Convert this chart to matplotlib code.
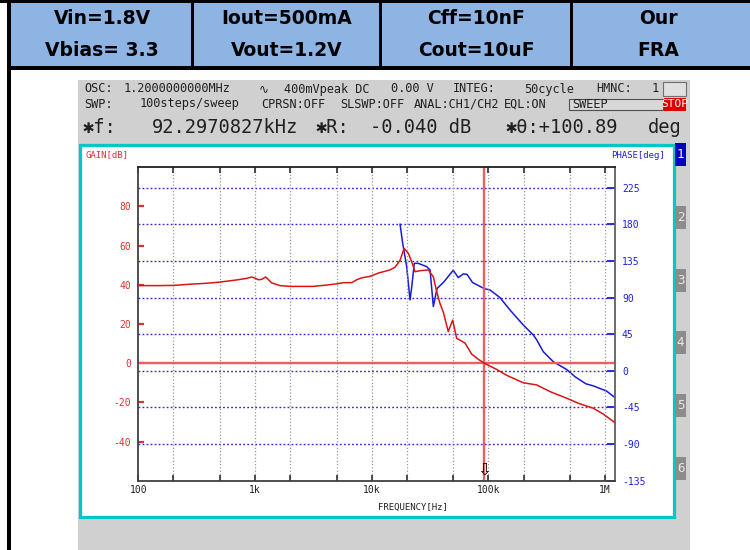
import matplotlib
matplotlib.use("Agg")
import matplotlib.pyplot as plt
from matplotlib.patches import Rectangle
from matplotlib.ticker import FixedLocator, NullFormatter
import matplotlib.transforms as mtransforms

# ---------------- data ----------------
header_top = ["Vin=1.8V", "Iout=500mA", "Cff=10nF", "Our"]
header_bottom = ["Vbias= 3.3", "Vout=1.2V", "Cout=10uF", "FRA"]

gain_freq = [100, 150, 200, 277, 386, 501, 697, 849, 937, 1000, 1067, 1140, 1235,
             1390, 1637, 1995, 3162, 3981, 5012, 5715, 6745, 7430, 8260, 9666,
             11400, 14350, 15850, 17500, 18930, 20600, 22030, 23500, 25950, 30550,
             33750, 36060, 38460, 41110, 45300, 49430, 53460, 58000, 63100, 71940,
             81920, 92297, 117800, 143500, 199000, 259400, 337300, 469000, 609500,
             792500, 966000, 1216000]
gain_db = [39.6, 39.6, 39.7, 40.3, 40.8, 41.4, 42.5, 43.3, 44.0, 43.4, 42.6, 42.8, 44.0,
           41.0, 39.6, 39.2, 39.2, 39.8, 40.5, 41.1, 41.1, 42.6, 43.6, 44.3,
           46.0, 47.6, 49.0, 52.5, 58.6, 56.1, 51.8, 46.7, 47.2, 47.6,
           44.1, 36.5, 30.5, 26.0, 16.1, 22.0, 12.7, 11.5, 10.2, 4.6,
           2.0, -0.04, -3.2, -6.2, -10.0, -11.1, -14.5, -17.9, -20.8,
           -23.0, -26.0, -30.4]

phase_freq = [17500, 18440, 19950, 21300, 22030, 23180, 25070, 29580, 31620, 33750,
              36300, 41700, 49970, 55200, 60950, 65600, 73100, 92297, 103200, 125600,
              153100, 199000, 242700, 259400, 295300, 359700, 469000, 552000, 609500,
              686000, 792500, 1033000, 1216000]
phase_deg = [180, 156.6, 128, 87, 103, 132, 132, 128, 124, 79,
             101, 109.5, 123.5, 114.5, 119, 118.5, 108.5, 100.89, 99.3, 90,
             74.7, 56.3, 44, 38, 23.5, 11.2, 1.5, -7.2, -11.3,
             -16, -18.5, -25, -33]

gain_ticks = [80, 60, 40, 20, 0, -20, -40]
phase_ticks = [225, 180, 135, 90, 45, 0, -45, -90, -135]
phase_grid = [225, 180, 135, 90, 45, 0, -45, -90]
freq_ticks = [100, 1e3, 1e4, 1e5, 1e6]
freq_labels = ["100", "1k", "10k", "100k", "1M"]
freq_minor = [200, 500, 2e3, 5e3, 2e4, 5e4, 2e5, 5e5]
grid_freqs = [200, 500, 1e3, 2e3, 5e3, 1e4, 2e4, 5e4, 1e5, 2e5, 5e5, 1e6]
cursor_freq = 92297.0827

info1 = [("OSC:", 84), ("1.2000000000MHz", 124), ("\u223f", 259), ("400mVpeak DC", 284),
         ("0.00 V", 391), ("INTEG:", 453), ("50cycle", 524), ("HMNC:", 596), ("1", 652)]
info2 = [("SWP:", 84), ("100steps/sweep", 140), ("CPRSN:OFF", 261), ("SLSWP:OFF", 340),
         ("ANAL:CH1/CH2", 414), ("EQL:ON", 504)]
info3 = [("\u2731f:", 83), ("92.2970827kHz", 152), ("\u2731R:", 316), ("-0.040 dB", 370),
         ("\u2731\u03b8:+100.89", 506), ("deg", 648)]

# ---------------- figure ----------------
W, H = 750, 550
fig = plt.figure(figsize=(7.5, 5.5), dpi=100)
fig.patch.set_facecolor("white")

bg = fig.add_axes([0, 0, 1, 1])
bg.set_xlim(0, W)
bg.set_ylim(H, 0)
bg.axis("off")

# header table
bg.add_patch(Rectangle((9, 2), W - 9, 65, fc="#8db4e2", ec="none"))
bg.add_patch(Rectangle((0, 0), W, 3, fc="black", ec="none"))
bg.add_patch(Rectangle((7, 66), W - 7, 4, fc="black", ec="none"))
bg.add_patch(Rectangle((7, 0), 3.5, H, fc="black", ec="none"))
for sx in [191, 379, 570]:
    bg.add_patch(Rectangle((sx, 0), 3, 68, fc="black", ec="none"))
centers = [102, 287, 476, 658]
for cx, t1, t2 in zip(centers, header_top, header_bottom):
    bg.text(cx, 19, t1, ha="center", va="center", fontsize=13.5, fontweight="bold",
            family="DejaVu Sans", color="black")
    bg.text(cx, 50, t2, ha="center", va="center", fontsize=13.5, fontweight="bold",
            family="DejaVu Sans", color="black")

# instrument screen
bg.add_patch(Rectangle((78, 80), 612, H - 80, fc="#d0d0d0", ec="none"))
bg.add_patch(Rectangle((79.5, 144.5), 594.5, 372, fc="white", ec="#00c8c8", lw=2.3))

mono = ["DejaVu Sans Mono", "DejaVu Sans"]
for t, x in info1:
    bg.text(x, 89, t, ha="left", va="center", fontsize=8.6, family=mono, color="#202020")
for t, x in info2:
    bg.text(x, 104, t, ha="left", va="center", fontsize=8.6, family=mono, color="#202020")
for t, x in info3:
    bg.text(x, 127.5, t, ha="left", va="center", fontsize=13.5, family=mono, color="#202020")

# HMNC box, SWEEP box, STOP button
bg.add_patch(Rectangle((663, 82), 23, 14, fc="#e0e0e0", ec="#707070", lw=0.8))
bg.add_patch(Rectangle((569, 98.5), 94, 11, fc="#d8d8d8", ec="#505050", lw=0.8))
bg.text(572, 104, "SWEEP", ha="left", va="center", fontsize=8.6, family=mono, color="#202020")
bg.add_patch(Rectangle((664, 97.5), 22, 13, fc="#e00000", ec="none"))
bg.text(675, 104, "STOP", ha="center", va="center", fontsize=8, family=mono, color="white")

# side tabs
tab_y = [143, 206, 269, 331, 394, 457]
for i, ty in enumerate(tab_y):
    fc = "#0000c0" if i == 0 else "#8c8c8c"
    tc = "white" if i == 0 else "#e8e8e8"
    bg.add_patch(Rectangle((675, ty), 11, 23, fc=fc, ec="none"))
    bg.text(680.5, ty + 11.5, str(i + 1), ha="center", va="center", fontsize=9,
            family=mono, color=tc)

# axis titles
bg.text(86, 155, "GAIN[dB]", ha="left", va="center", fontsize=6.5, family=mono, color="#e03030")
bg.text(665, 155, "PHASE[deg]", ha="right", va="center", fontsize=6.5, family=mono, color="#2020e0")
bg.text(413, 507, "FREQUENCY[Hz]", ha="center", va="center", fontsize=6.5, family=mono, color="#202020")

# ---------------- plot axes ----------------
L, R, T, B = 138.3, 615.0, 167.3, 480.7
ax = fig.add_axes([L / W, (H - B) / H, (R - L) / W, (B - T) / H])
ax2 = ax.twinx()
ax.set_zorder(ax2.get_zorder() + 1)
ax.patch.set_visible(False)

ax.set_xscale("log")
ax.set_xlim(100, 1.216e6)
ax.set_ylim(-60, 100)
ax2.set_ylim(-135, 250)

# grids
for p in phase_grid:
    ax2.axhline(p, color="#2a2ae6", lw=1.0, ls=(0, (1.3, 1.6)), zorder=1)
for f in grid_freqs:
    ax.axvline(f, color="#9a9a9a", lw=0.9, ls=(0, (1.0, 1.6)), zorder=1)

# markers
ax.axhline(0, color="#e86060", lw=1.7, zorder=2)
ax.axvline(cursor_freq, color="#e86060", lw=1.7, zorder=2)

# curves
ax2.plot(phase_freq, phase_deg, color="#1a1ad8", lw=1.1, zorder=3)
ax.plot(gain_freq, gain_db, color="#dd1414", lw=1.1, zorder=3)

# cursor arrow
trans = mtransforms.blended_transform_factory(ax.transData, ax.transAxes)
ax.text(cursor_freq, 0.008, "\u21e9", transform=trans, ha="center", va="bottom",
        fontsize=12, family="DejaVu Sans", color="black", zorder=5)

# spines
for side, col in [("left", "#404040"), ("bottom", "#404040"), ("top", "#202020"), ("right", "#606060")]:
    ax.spines[side].set_color(col)
    ax.spines[side].set_linewidth(1.3)
for s in ax2.spines.values():
    s.set_visible(False)

# x ticks
ax.xaxis.set_major_locator(FixedLocator(freq_ticks))
ax.xaxis.set_minor_locator(FixedLocator(freq_minor))
ax.xaxis.set_minor_formatter(NullFormatter())
ax.set_xticklabels(freq_labels)
ax.tick_params(axis="x", which="both", direction="in", top=True, bottom=True,
               length=4, width=1.2, color="#303030", pad=3,
               labelsize=7, labelcolor="#202020")
for lab in ax.get_xticklabels():
    lab.set_family(mono)

# gain ticks
ax.set_yticks(gain_ticks)
ax.set_yticklabels([str(v) for v in gain_ticks])
ax.tick_params(axis="y", which="both", direction="in", left=True, right=False,
               length=4, width=1.6, color="#e03030", pad=5, labelsize=7,
               labelcolor="#e03030")
for lab in ax.get_yticklabels():
    lab.set_family(mono)

# phase ticks
ax2.set_yticks(phase_ticks)
ax2.set_yticklabels([str(v) for v in phase_ticks])
ax2.tick_params(axis="y", which="both", direction="in", right=True, left=False,
                length=6, width=1.4, color="#2a2ae6", pad=5, labelsize=7,
                labelcolor="#2020e0")
for lab in ax2.get_yticklabels():
    lab.set_family(mono)

fig.savefig("out.png", dpi=100)
